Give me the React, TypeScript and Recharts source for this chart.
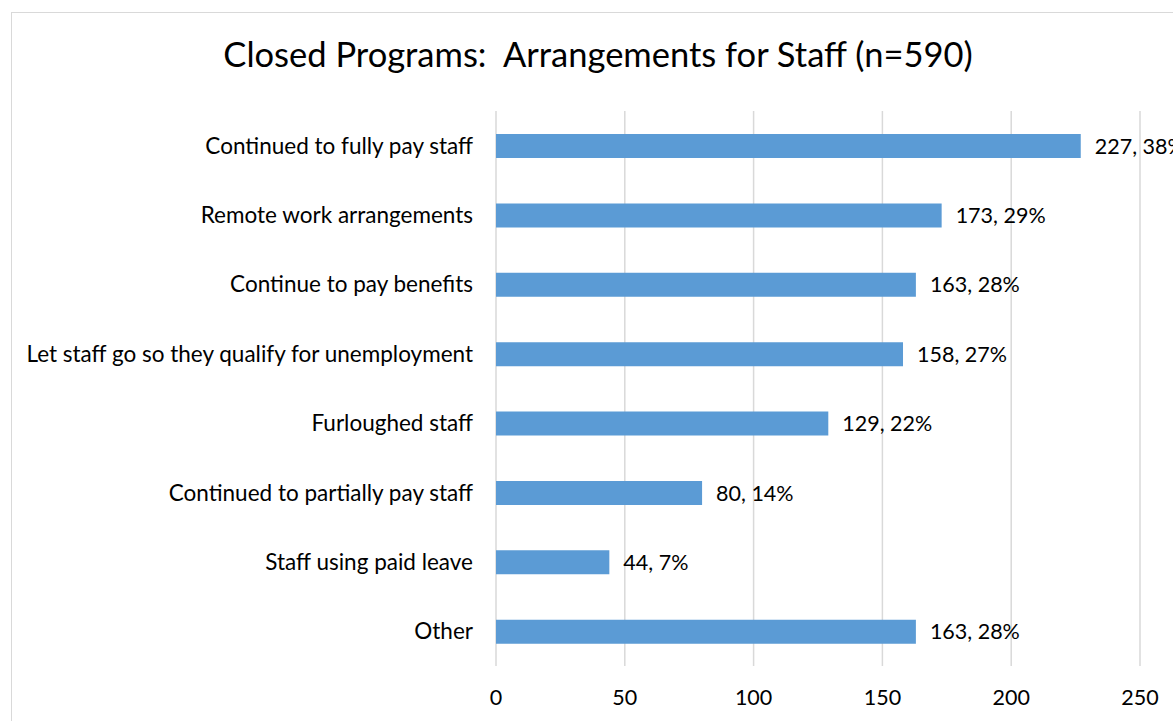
import { Bar, BarChart, CartesianGrid, LabelList, XAxis, YAxis } from "recharts";

const categories = [
  "Continued to fully pay staff",
  "Remote work arrangements",
  "Continue to pay benefits",
  "Let staff go so they qualify for unemployment",
  "Furloughed staff",
  "Continued to partially pay staff",
  "Staff using paid leave",
  "Other",
];
const counts = [227, 173, 163, 158, 129, 80, 44, 163];
const percents = [38, 29, 28, 27, 22, 14, 7, 28];
const xTicks = [0, 50, 100, 150, 200, 250];

const FONT = "Lato, 'Open Sans', sans-serif";

const data = categories.map((name, i) => ({
  name,
  value: counts[i],
  label: `${counts[i]}, ${percents[i]}%`,
}));

export default function App() {
  return (
    <div
      style={{
        position: "absolute",
        left: 0,
        top: 0,
        width: 1173,
        height: 721,
        overflow: "hidden",
        background: "#fff",
        fontFamily: FONT,
      }}
    >
      {/* chart frame */}
      <div
        style={{
          position: "absolute",
          left: 11,
          top: 12,
          width: 1200,
          height: 760,
          border: "1.5px solid #d9d9d9",
        }}
      />
      <div
        style={{
          position: "absolute",
          left: 0,
          width: 1196,
          top: 33,
          textAlign: "center",
          fontSize: 34.5,
          color: "#000",
          whiteSpace: "pre",
        }}
      >
        {"Closed Programs:  Arrangements for Staff (n=590)"}
      </div>
      <div style={{ position: "absolute", left: 0, top: 0 }}>
        <BarChart
          width={1173}
          height={721}
          data={data}
          layout="vertical"
          margin={{ top: 111, right: 33, bottom: 25, left: 0 }}
          barCategoryGap={0}
        >
          <CartesianGrid horizontal={false} stroke="#d9d9d9" strokeWidth={1.5} />
          <XAxis
            type="number"
            domain={[0, 250]}
            ticks={xTicks}
            height={30}
            axisLine={false}
            tickLine={false}
            tickSize={0}
            tickMargin={24}
            tick={{ fill: "#000", fontSize: 21.5, fontFamily: FONT }}
          />
          <YAxis
            type="category"
            dataKey="name"
            width={496}
            axisLine={false}
            tickLine={false}
            tickSize={0}
            tickMargin={23}
            tick={{ fill: "#000", fontSize: 22.5, fontFamily: FONT }}
          />
          <Bar dataKey="value" fill="#5b9bd5" barSize={24} isAnimationActive={false}>
            <LabelList
              dataKey="label"
              position="right"
              offset={14}
              fill="#000"
              fontSize={21.5}
              fontFamily={FONT}
            />
          </Bar>
        </BarChart>
      </div>
    </div>
  );
}
